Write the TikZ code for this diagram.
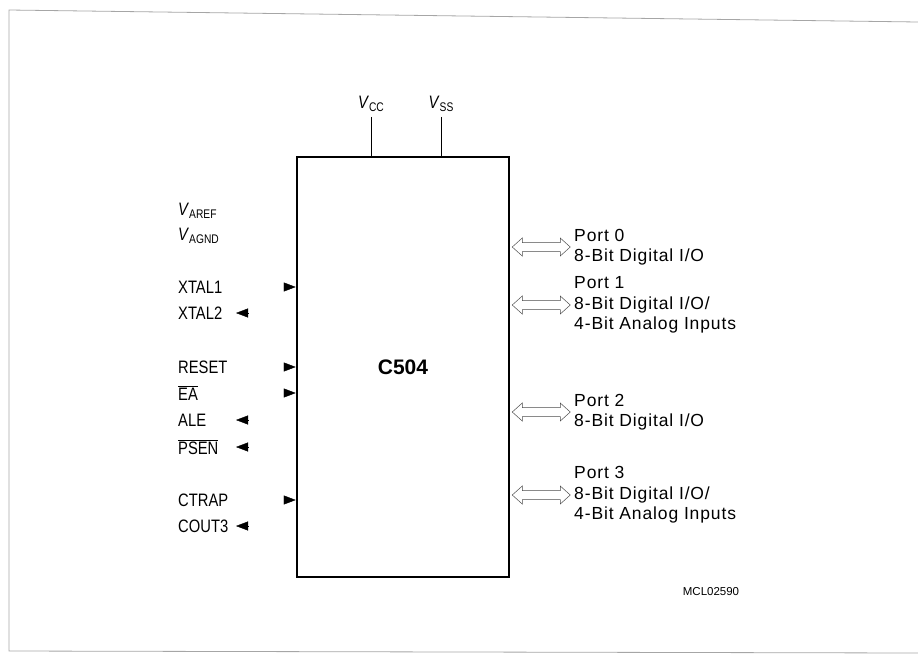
\documentclass[tikz,border=0pt]{standalone}
\usepackage{fontspec}
\setmainfont{Liberation Sans}
\newfontfamily\pinfont{Liberation Sans}[FakeStretch=0.82]
\newfontfamily\portfont{Liberation Sans}[LetterSpace=5]
\usetikzlibrary{arrows.meta}
\newcommand{\vsub}[2]{\textit{#1}\raisebox{-3pt}{\fontsize{12.5}{13}\selectfont #2}}

\begin{document}
\begin{tikzpicture}[
  x=1pt, y=-1pt,
  chip/.style={draw, line width=2.5pt, minimum width=212pt, minimum height=420pt, inner sep=0pt, font=\bfseries\fontsize{21}{25}\selectfont},
  pin/.style={anchor=west, inner sep=0pt, font=\pinfont\fontsize{18}{21}\selectfont},
  supply/.style={inner sep=0pt, font=\pinfont\fontsize{18}{21}\selectfont},
  port/.style={anchor=west, align=left, inner sep=0pt, font=\portfont\fontsize{17.5}{20.5}\selectfont},
  inarr/.style={-{Triangle[length=12pt,width=9pt]}},
  outarr/.style={-{Triangle[length=12pt,width=9pt]}},
  bus/.style={draw=black!70, line width=0.5pt, line join=miter},
  frame/.style={draw=black!35, line width=0.8pt}
]
\useasboundingbox (0,0) rectangle (918,654);
\draw[frame] (918,22) -- (9,10) -- (9,651) -- (918,653);

% controller
\node[chip] (box) at (403,367) {C504};

% supply pins
\node[supply] (vcc) at (371,104) {\vsub{V}{CC}};
\node[supply] (vss) at (441,104) {\vsub{V}{SS}};
\draw ([yshift=-5pt]vcc.south) -- (vcc.south |- box.north);
\draw ([yshift=-5pt]vss.south) -- (vss.south |- box.north);

% left side pins
\node[pin] (varef) at (178,211) {\vsub{V}{AREF}};
\node[pin] (vagnd) at (178,236) {\vsub{V}{AGND}};
\node[pin] (xtal1) at (178,287) {XTAL1};
\node[pin] (xtal2) at (178,313) {XTAL2};
\node[pin] (reset) at (178,367) {RESET};
\node[pin] (ea) at (178,393) {$\overline{\mbox{EA}}$};
\node[pin] (ale) at (178,420) {ALE};
\node[pin] (psen) at (178,447) {$\overline{\mbox{PSEN}}$};
\node[pin] (ctrap) at (178,500) {CTRAP};
\node[pin] (cout3) at (178,526) {COUT3};

\foreach \n in {xtal1,reset,ea,ctrap}
  \draw[inarr] ([xshift=-12pt]box.west |- \n) -- (box.west |- \n);
\coordinate (outcol) at (248,0);
\foreach \n in {xtal2,ale,psen,cout3}
  \draw[outarr] (outcol |- \n) -- ++(-12,0);

% ports
\node[port] (p0) at (574,247) {Port 0\\8-Bit Digital I/O};
\node[port] (p1) at (574,305) {Port 1\\8-Bit Digital I/O/\\4-Bit Analog Inputs};
\node[port] (p2) at (574,412) {Port 2\\8-Bit Digital I/O};
\node[port] (p3) at (574,495) {Port 3\\8-Bit Digital I/O/\\4-Bit Analog Inputs};

\foreach \p in {p0,p1,p2,p3}
  \draw[bus] ([xshift=2pt]box.east |- \p) -- ++(10,-9) -- ++(0,4.5) -- ++(38,0) -- ++(0,-4.5)
    -- ++(10,9) -- ++(-10,9) -- ++(0,-4.5) -- ++(-38,0) -- ++(0,4.5) -- cycle;

\node[inner sep=0pt, font=\fontsize{11.5}{14}\selectfont] (mcl) at (711,592) {MCL02590};
\end{tikzpicture}
\end{document}
